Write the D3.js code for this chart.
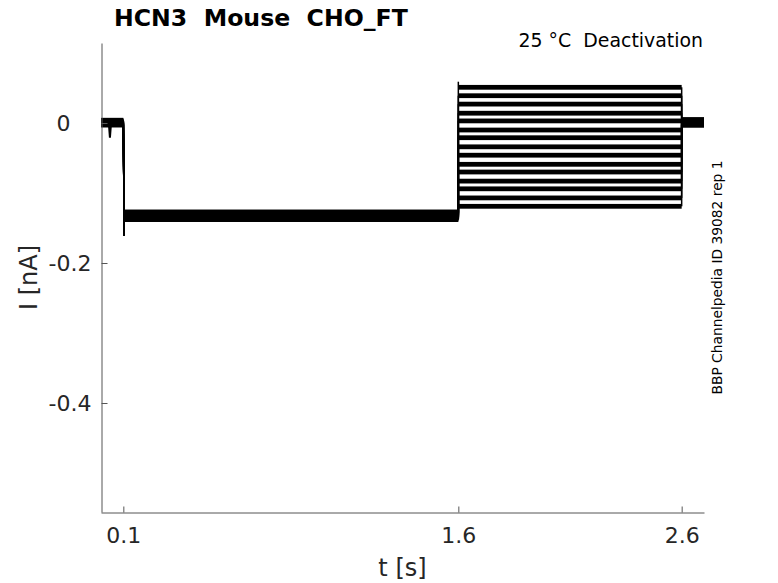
<!DOCTYPE html>
<html>
<head>
<meta charset="utf-8">
<script src="https://cdn.jsdelivr.net/npm/d3@7"></script>
<style>
  html, body { margin: 0; padding: 0; background: #fff; }
  svg { display: block; font-family: "DejaVu Sans", sans-serif; }
  text { white-space: pre; }
</style>
</head>
<body>
<svg id="chart" width="778" height="583"></svg>
<script>
// ---- data ----
const xTicks = [0.1, 1.6, 2.6];
const yTicks = [0, -0.2, -0.4];
const xDomain = [0, 2.7];
const yDomain = [-0.5557, 0.1143];
// step times of the protocol (s)
const stepTimes = [0, 0.1, 1.6, 2.6, 2.7];
// holding current before the first step (nA), per sweep
const holdLevels = [0.001, 0.003, -0.002, 0.000, 0.004, -0.003, 0.002, 0.001, -0.001, 0.003, 0.000, -0.002, 0.002, 0.001, -0.001];
// current during the conditioning step 0.1–1.6 s (nA), per sweep
const preLevels = [-0.127, -0.131, -0.134, -0.129, -0.136, -0.132, -0.138, -0.130, -0.133, -0.128, -0.135, -0.131, -0.137, -0.129, -0.134];
// current during the test step 1.6–2.6 s (nA), per sweep
const testLevels = [0.051, 0.039, 0.027, 0.014, 0.003, -0.010, -0.021, -0.034, -0.046, -0.059, -0.070, -0.083, -0.094, -0.107, -0.119];
// current after return to holding 2.6–2.7 s (nA), per sweep
const postLevels = [0.004, 0.002, -0.002, 0.001, 0.005, -0.003, 0.003, 0.000, -0.001, 0.002, 0.004, -0.002, 0.001, 0.003, -0.003];
// transients
const onsetSpike = -0.161;     // capacitive dip at 0.1 s
const testSpike = 0.059;       // overshoot at 1.6 s (top sweep)
const earlyDip = [[0.035, 0.0], [0.04, -0.021], [0.045, 0.0]]; // small dip before 0.1 s
const noiseHalfWidth = 0.0034; // half thickness of the noisy trace band (nA)

// ---- layout ----
const svg = d3.select("#chart");
const L = 101, R = 704, T = 43, B = 512;
const x = d3.scaleLinear().domain(xDomain).range([L, R]);
const y = d3.scaleLinear().domain(yDomain).range([B, T]);
const axisColor = "#555";
const textColor = "#262626";

// ---- traces ----
const g = svg.append("g");
testLevels.forEach((lv, i) => {
  const plateaus = [
    [stepTimes[0], stepTimes[1], holdLevels[i]],
    [stepTimes[1] + 0.004, stepTimes[2], preLevels[i]],
    [stepTimes[2], stepTimes[3], lv],
    [stepTimes[3], stepTimes[4], postLevels[i]]
  ];
  plateaus.forEach(p => {
    g.append("rect")
      .attr("x", x(p[0]))
      .attr("width", x(p[1]) - x(p[0]))
      .attr("y", y(p[2] + noiseHalfWidth))
      .attr("height", y(p[2] - noiseHalfWidth) - y(p[2] + noiseHalfWidth))
      .attr("fill", "#000");
  });
  // vertical transitions
  const verts = [
    [[stepTimes[1], holdLevels[i]], [stepTimes[1] + 0.004, onsetSpike], [stepTimes[1] + 0.004, preLevels[i]]],
    [[stepTimes[2], preLevels[i]], [stepTimes[2], i === 0 ? testSpike : lv]],
    [[stepTimes[3], lv], [stepTimes[3], postLevels[i]]]
  ];
  const line = d3.line().x(d => x(d[0])).y(d => y(d[1]));
  verts.forEach(v => {
    g.append("path").attr("d", line(v))
      .attr("fill", "none").attr("stroke", "#000").attr("stroke-width", 1.5);
  });
  if (i === 0) {
    g.append("path").attr("d", line(earlyDip))
      .attr("fill", "none").attr("stroke", "#000").attr("stroke-width", 2);
  }
});

// ---- axes ----
const xAxis = d3.axisBottom(x).tickValues(xTicks).tickSize(-6).tickSizeOuter(0).tickPadding(15)
  .tickFormat(d3.format(".1f"));
const gx = svg.append("g").attr("transform", `translate(0,${B + 0.5})`).call(xAxis);
const yAxis = d3.axisLeft(y).tickValues(yTicks).tickSize(-6).tickSizeOuter(0).tickPadding(10)
  .tickFormat(d => d === 0 ? "0" : d3.format(".1f")(d).replace("−", "-"));
const gy = svg.append("g").attr("transform", `translate(${L + 0.5},0)`).call(yAxis);
[gx, gy].forEach(a => {
  a.select(".domain").attr("stroke", axisColor);
  a.selectAll(".tick line").attr("stroke", axisColor);
  a.selectAll(".tick text").attr("fill", textColor)
    .style("font-family", "DejaVu Sans, sans-serif").style("font-size", "22px");
});
gy.selectAll(".tick text").filter(d => d === 0).attr("x", -31);

// ---- labels ----
svg.append("text").attr("x", 402.5).attr("y", 576).attr("text-anchor", "middle")
  .attr("fill", textColor).style("font-size", "24px").text("t [s]");
svg.append("text").attr("transform", "translate(37,277.5) rotate(-90)").attr("text-anchor", "middle")
  .attr("fill", textColor).style("font-size", "24px").text("I [nA]");
svg.append("text").attr("x", 114).attr("y", 26)
  .attr("fill", "#000").style("font-size", "23.6px").style("font-weight", "bold")
  .text("HCN3  Mouse  CHO_FT");
svg.append("text").attr("x", 703).attr("y", 47).attr("text-anchor", "end")
  .attr("fill", "#000").style("font-size", "18.9px").text("25 °C  Deactivation");
svg.append("text").attr("transform", "translate(722,277.5) rotate(-90)").attr("text-anchor", "middle")
  .attr("fill", "#000").style("font-size", "13.8px").text("BBP Channelpedia ID 39082 rep 1");
</script>
</body>
</html>
